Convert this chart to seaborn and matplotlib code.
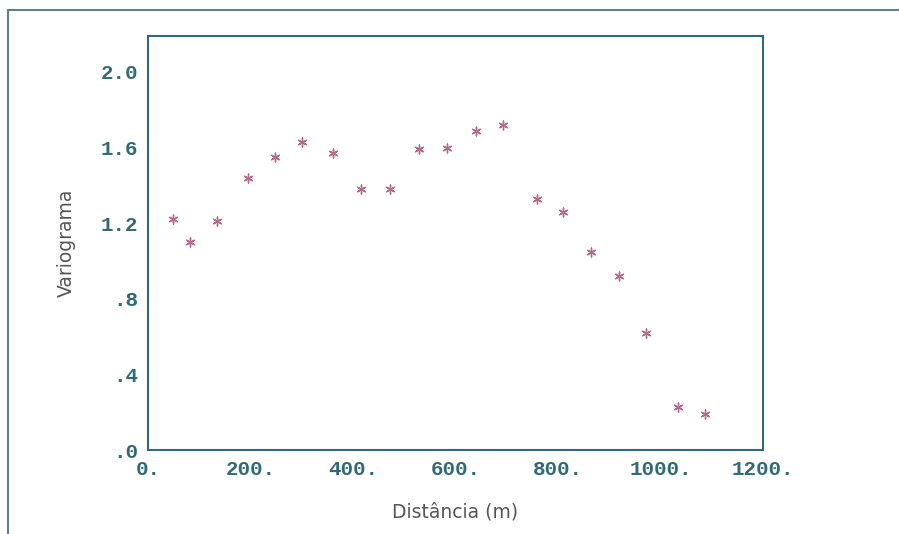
import matplotlib
matplotlib.use("Agg")
import matplotlib.pyplot as plt
from matplotlib.lines import Line2D
import pandas as pd
import seaborn as sns

# lag distance (m) and semivariance
distance = [49, 82, 135, 195, 248, 300, 361, 416, 472, 529,
            583, 640, 693, 759, 810, 864, 919, 972, 1034, 1087]
variogram = [1.22, 1.10, 1.21, 1.44, 1.55, 1.63, 1.57, 1.38, 1.38, 1.59,
             1.60, 1.69, 1.72, 1.33, 1.26, 1.05, 0.92, 0.62, 0.23, 0.19]

x_ticks = [0, 200, 400, 600, 800, 1000, 1200]
x_tick_labels = ["0.", "200.", "400.", "600.", "800.", "1000.", "1200."]
y_ticks = [0.0, 0.4, 0.8, 1.2, 1.6, 2.0]
y_tick_labels = [".0", ".4", ".8", "1.2", "1.6", "2.0"]

AXIS_COLOR = "#2f6a76"
POINT_COLOR = "#b8668c"

sns.set_style("white")
plt.rcParams["font.family"] = ["DejaVu Sans"]

df = pd.DataFrame({"dist": distance, "gamma": variogram})

fig = plt.figure(figsize=(8.99, 5.34), dpi=100)
ax = fig.add_axes([0.1646, 0.1573, 0.6841, 0.7753])

sns.scatterplot(data=df, x="dist", y="gamma", ax=ax, marker=(6, 2, 0),
                s=40, color=POINT_COLOR, edgecolor=POINT_COLOR, linewidth=1.0)

ax.set_xlim(0, 1200)
ax.set_ylim(0, 2.19)
ax.set_xticks(x_ticks)
ax.set_xticklabels(x_tick_labels)
ax.set_yticks(y_ticks)
ax.set_yticklabels(y_tick_labels)

for lab in ax.get_xticklabels() + ax.get_yticklabels():
    lab.set_fontfamily("Liberation Mono")
    lab.set_fontweight("bold")
    lab.set_fontsize(15)
    lab.set_color(AXIS_COLOR)

ax.tick_params(axis="both", direction="out", length=5, width=1.2,
               color=AXIS_COLOR, pad=2)
for spine in ax.spines.values():
    spine.set_visible(True)
    spine.set_color(AXIS_COLOR)
    spine.set_linewidth(1.5)

ax.set_xlabel("Distância (m)", fontsize=13.5, color="#555555")
ax.set_ylabel("Variograma", fontsize=13.5, color="#555555")
ax.xaxis.set_label_coords(0.5, -52 / 414)
ax.yaxis.set_label_coords(-72 / 615, 0.5)

# outer frame of the original window
fig.add_artist(Line2D([8 / 899, 1.0], [1 - 10 / 534, 1 - 10 / 534],
                      transform=fig.transFigure, color="#5f7f84", linewidth=1.5))
fig.add_artist(Line2D([8 / 899, 8 / 899], [0.0, 1 - 10 / 534],
                      transform=fig.transFigure, color="#5f7f84", linewidth=1.5))

fig.savefig("out.png", dpi=100)
plt.close(fig)
